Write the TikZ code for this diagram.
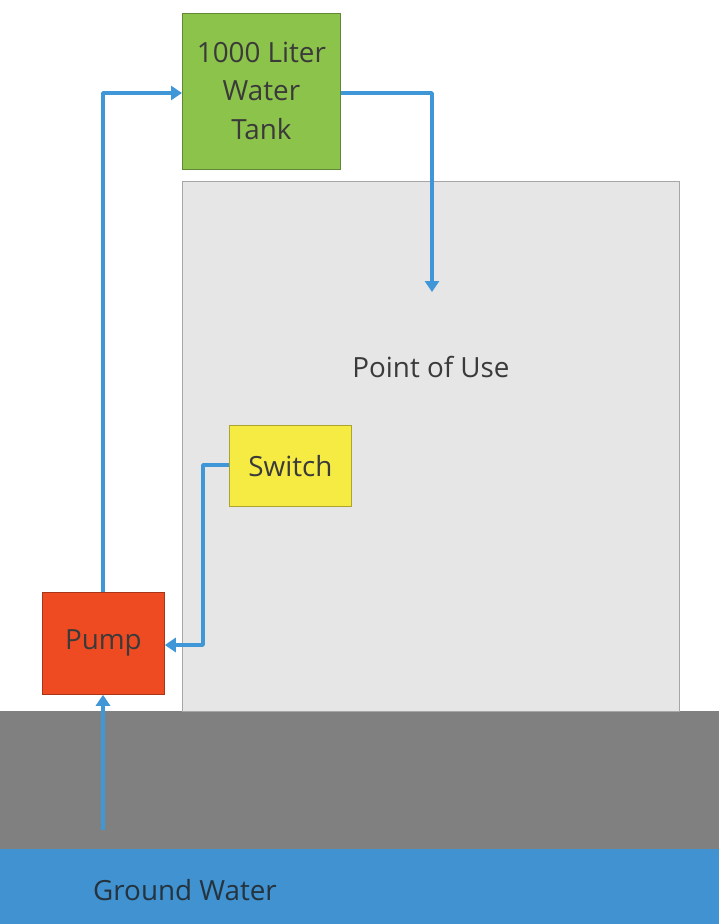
\documentclass[tikz,border=0pt]{standalone}
\usepackage{fontspec}
\setmainfont{Open Sans}
\usetikzlibrary{arrows.meta}
\definecolor{pipe}{HTML}{3F97D7}
\definecolor{tankgreen}{HTML}{8CC34B}
\definecolor{useGray}{HTML}{E6E6E6}
\definecolor{switchYellow}{HTML}{F5EB42}
\definecolor{pumpRed}{HTML}{EE4B23}
\definecolor{soil}{HTML}{808080}
\definecolor{water}{HTML}{4192D0}
\definecolor{ink}{HTML}{3A3A3A}
\tikzset{
  label font/.style={font=\fontsize{27.8}{39}\selectfont},
  box/.style={draw=#1!70!black, line width=0.8pt, inner sep=0pt, anchor=north west,
    label font, text=ink, align=center},
  flow/.style={draw=pipe, line width=3.5pt, line join=round,
    -{Triangle[length=11pt,width=14pt]}},
}
\begin{document}
\begin{tikzpicture}[x=1pt,y=-1pt]
\useasboundingbox (0,0) rectangle (719,924);
\fill[white] (0,0) rectangle (719,924);
% ground layers
\fill[soil] (0,711) rectangle (719,849);
\fill[water] (0,849) rectangle (719,924);
\node[label font, text=ink!70!water!60!black, anchor=west, inner sep=0pt] (gw) at (93,890) {Ground Water};
% building area
\node[box=useGray, fill=useGray, minimum width=497pt, minimum height=530pt, draw=gray!70] (use) at (182,181) {};
\node[label font, text=ink] (uselbl) at (431,367) {Point of Use};
% components
\node[box=tankgreen, fill=tankgreen, minimum width=158pt, minimum height=156pt] (tank) at (182,13) {\raisebox{-1pt}{1000 Liter}\\Water\\Tank};
\node[box=switchYellow, fill=switchYellow, minimum width=122pt, minimum height=81pt] (switch) at (229,425) {Switch};
\node[box=pumpRed, fill=pumpRed, minimum width=122pt, minimum height=102pt] (pump) at (42,592) {\raisebox{-4pt}{Pump}};
\coordinate (src) at (103,830);
\coordinate (drop) at (432,292);
% pipes and control line
\draw[flow] (pump.north -| 103,0) |- (tank.west |- 0,93);
\draw[flow] (tank.east |- 0,93) -| (drop);
\draw[flow] (switch.west |- 0,465) -| (203,645) -- (pump.east |- 0,645);
\draw[flow] (src) -- (pump.south -| 103,0);
\end{tikzpicture}
\end{document}
